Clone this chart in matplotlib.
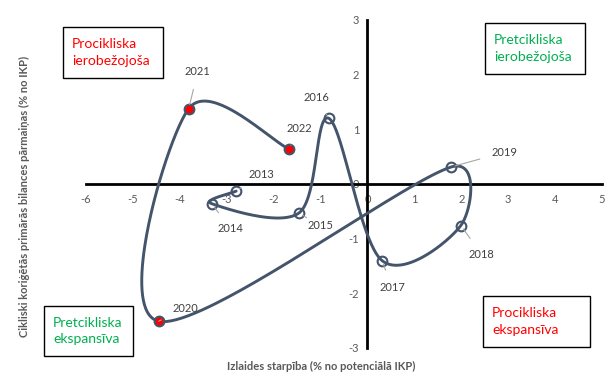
import numpy as np
import matplotlib
matplotlib.use("Agg")
import matplotlib.pyplot as plt
from matplotlib.patches import Rectangle

plt.rcParams['font.family'] = ['Lato', 'DejaVu Sans']

years = ['2013', '2014', '2015', '2016', '2017', '2018', '2019', '2020', '2021', '2022']
output_gap = [-2.80, -3.32, -1.46, -0.82, 0.31, 1.99, 1.78, -4.45, -3.81, -1.67]
balance_change = [-0.13, -0.36, -0.53, 1.20, -1.40, -0.76, 0.31, -2.51, 1.38, 0.64]
highlight = ['2020', '2021', '2022']
# label offsets (pixels) from point
label_offsets = {
    '2013': (25, 17), '2014': (19, -25), '2015': (21, -13), '2016': (-13, 21),
    '2017': (10, -27), '2018': (21, -29), '2019': (54, 15), '2020': (27, 13),
    '2021': (9, 37), '2022': (10, 21),
}
xticks = [-6, -5, -4, -3, -2, -1, 0, 1, 2, 3, 4, 5]
yticks = [-3, -2, -1, 0, 1, 2, 3]

W, H = 613, 381
fig = plt.figure(figsize=(W / 100, H / 100), dpi=100)
L, R, T, B = 86, 602, 20, 348
ax = fig.add_axes([L / W, 1 - B / H, (R - L) / W, (B - T) / H])
ax.set_xlim(-6, 5)
ax.set_ylim(-3, 3)

line_col = '#44546A'
# smoothed curve (Excel-like Bezier) computed in pixel-proportional space
sx = (R - L) / 11.0
sy = (B - T) / 6.0
P = np.column_stack([np.array(output_gap) * sx, np.array(balance_change) * sy])
n = len(P)
curve = []
for i in range(n - 1):
    p0 = P[i - 1] if i > 0 else P[i]
    p1 = P[i]
    p2 = P[i + 1]
    p3 = P[i + 2] if i + 2 < n else P[i + 1]
    d12 = np.linalg.norm(p2 - p1)
    v1 = (p2 - p0) / 6.0
    v2 = (p3 - p1) / 6.0
    n1 = np.linalg.norm(v1)
    n2 = np.linalg.norm(v2)
    if n1 > d12 / 2 and n1 > 0:
        v1 = v1 * (d12 / 2) / n1
    if n2 > d12 / 2 and n2 > 0:
        v2 = v2 * (d12 / 2) / n2
    c1 = p1 + v1
    c2 = p2 - v2
    t = np.linspace(0, 1, 80)[:, None]
    seg = (1 - t) ** 3 * p1 + 3 * (1 - t) ** 2 * t * c1 + 3 * (1 - t) * t ** 2 * c2 + t ** 3 * p2
    curve.append(seg)
curve = np.vstack(curve)
ax.plot(curve[:, 0] / sx, curve[:, 1] / sy, color=line_col, lw=2.1, zorder=3, solid_capstyle='round')

for yr, x, y in zip(years, output_gap, balance_change):
    if yr in highlight:
        ax.plot(x, y, 'o', ms=7, mfc='#FF0000', mec=line_col, mew=1.5, zorder=4)
    else:
        ax.plot(x, y, 'o', ms=7, mfc='none', mec=line_col, mew=1.5, zorder=4)
    dx, dy = label_offsets[yr]
    ax.annotate(yr, (x, y), xytext=(dx, dy), textcoords='offset pixels',
                ha='center', va='center', fontsize=8, color='#404040',
                arrowprops=dict(arrowstyle='-', color='#A6A6A6', lw=0.8, shrinkA=7, shrinkB=3),
                zorder=5)

# axes through origin
for s in ['top', 'right']:
    ax.spines[s].set_visible(False)
ax.spines['left'].set_position(('data', 0))
ax.spines['bottom'].set_position(('data', 0))
ax.spines['left'].set_linewidth(2)
ax.spines['bottom'].set_linewidth(2)
ax.spines['left'].set_zorder(2)
ax.spines['bottom'].set_zorder(2)
ax.set_xticks(xticks)
ax.set_yticks(yticks)
ax.tick_params(axis='x', length=0, labelsize=8, colors='#595959', pad=7)
ax.tick_params(axis='y', length=0, labelsize=8, colors='#595959', pad=6)
ax.set_xticklabels([str(v) for v in xticks])
ax.set_yticklabels([str(v) for v in yticks])
ax.patch.set_visible(False)

fig.text(321 / W, 1 - 366 / H, 'Izlaides starpība (% no potenciālā IKP)', ha='center', va='center',
         fontsize=8, fontweight='bold', color='#595959')
fig.text(24 / W, 1 - 196 / H, 'Cikliski koriģētās primārās bilances pārmaiņas (% no IKP)', ha='center',
         va='center', rotation=90, fontsize=8, fontweight='bold', color='#595959')

boxes = [
    ((63, 27, 163, 78), 'Procikliska\nierobežojoša', '#FF0000'),
    ((485, 23, 585, 74), 'Pretcikliska\nierobežojoša', '#00B050'),
    ((44, 306, 133, 356), 'Pretcikliska\nekspansīva', '#00B050'),
    ((483, 296, 590, 347), 'Procikliska\nekspansīva', '#FF0000'),
]
for (x0, y0, x1, y1), txt, col in boxes:
    fig.patches.append(Rectangle((x0 / W, 1 - y1 / H), (x1 - x0) / W, (y1 - y0) / H,
                                 transform=fig.transFigure, fill=True, fc='white', ec='black', lw=1,
                                 zorder=6))
    fig.text((x0 + 9) / W, 1 - (y0 + y1) / 2 / H, txt, ha='left', va='center', fontsize=10,
             color=col, linespacing=1.45, zorder=7)

fig.savefig('out.png', dpi=100)
